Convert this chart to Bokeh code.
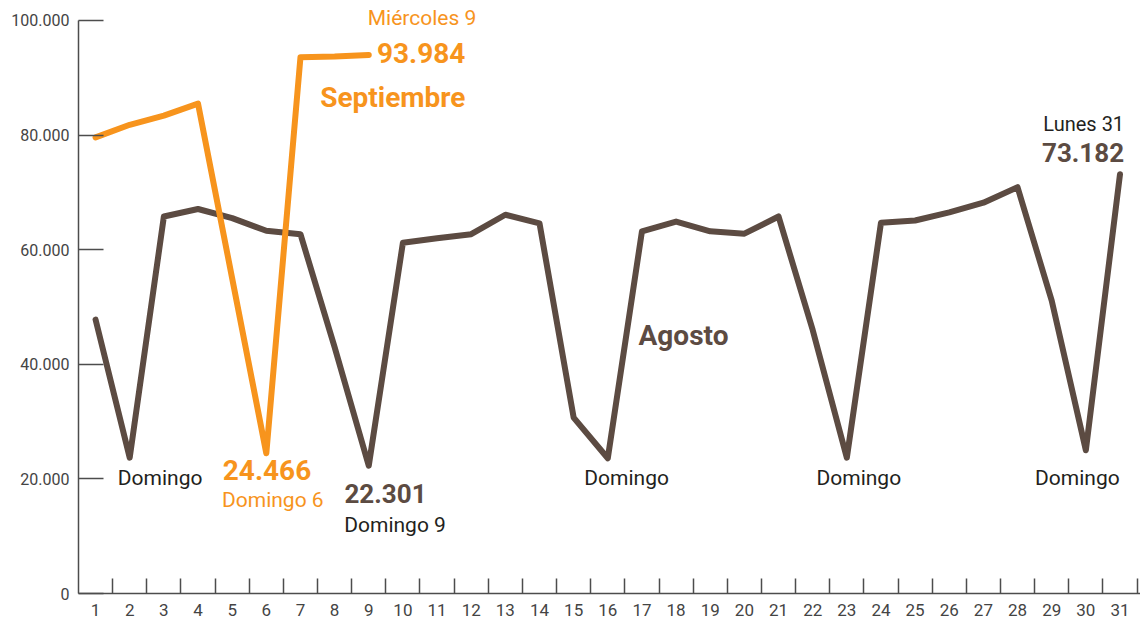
from bokeh.plotting import figure
from bokeh.models import FixedTicker
from bokeh.core.properties import value
from bokeh.embed import file_html
from bokeh.resources import INLINE

# ---- data ----
days = list(range(1, 32))
agosto = [47800, 23700, 65800, 67100, 65500, 63300, 62700, 43000, 22301, 61200,
          62000, 62700, 66100, 64600, 30700, 23600, 63200, 64900, 63200, 62800,
          65800, 46000, 23700, 64700, 65100, 66500, 68200, 70900, 51100, 25000, 73182]
sept_days = list(range(1, 10))
septiembre = [79600, 81800, 83400, 85500, 55000, 24466, 93600, 93700, 93984]

y_ticks = [0, 20000, 40000, 60000, 80000, 100000]
y_tick_labels = ["0", "20.000", "40.000", "60.000", "80.000", "100.000"]
x_tick_labels = [str(d) for d in days]

BROWN = "#5C4B42"
ORANGE = "#F7941D"
DARK = "#231F20"
AXIS = "#4D4D4D"
TICKFONT = "Roboto"

p = figure(frame_width=1062, frame_height=591, output_backend="svg",
           toolbar_location=None, x_range=(0.5, 31.6), y_range=(0, 103141),
           min_border_left=78, min_border_right=0, min_border_top=2,
           min_border_bottom=29)
p.outline_line_color = None
p.grid.grid_line_color = None
p.background_fill_color = "white"

# y axis
ya = p.yaxis[0]
ya.ticker = FixedTicker(ticks=y_ticks)
ya.major_label_overrides = {t: s for t, s in zip(y_ticks, y_tick_labels)}
ya.bounds = (0, 100000)
ya.major_tick_in = 25
ya.major_tick_out = 0
ya.minor_tick_line_color = None
ya.major_tick_line_color = AXIS
ya.major_tick_line_width = 1.5
ya.axis_line_color = AXIS
ya.axis_line_width = 1.5
ya.major_label_text_font = TICKFONT
ya.major_label_text_font_size = "16px"
ya.major_label_text_color = "#444444"
ya.major_label_standoff = 9

# x axis
xa = p.xaxis[0]
xa.ticker = FixedTicker(ticks=days, minor_ticks=[d + 0.5 for d in days])
xa.major_label_overrides = {d: s for d, s in zip(days, x_tick_labels)}
xa.major_tick_line_color = None
xa.minor_tick_in = 15
xa.minor_tick_out = 0
xa.minor_tick_line_color = AXIS
xa.minor_tick_line_width = 1.5
xa.axis_line_color = AXIS
xa.axis_line_width = 1.5
xa.major_label_text_font = TICKFONT
xa.major_label_text_font_size = "17px"
xa.major_label_text_color = "#444444"
xa.major_label_standoff = 4

# lines
p.line(days, agosto, line_color=BROWN, line_width=6, line_join="round", line_cap="round")
p.line(sept_days, septiembre, line_color=ORANGE, line_width=6, line_join="round", line_cap="round")

def fmt(v):
    return f"{v/1000:.3f}"

F = value("Roboto")

# Domingo labels under Sundays (August)
p.text(x=[2.89, 16.55, 23.35, 29.75], y=[20070] * 4, text=["Domingo"] * 4,
       text_font=F, text_font_size="21px", text_color=DARK,
       text_align="center", text_baseline="middle")

# September min
p.text(x=[6.02], y=[21470], text=[fmt(septiembre[5])], text_font=F, text_font_style="bold",
       text_font_size="28px", text_color=ORANGE, text_align="center", text_baseline="middle")
p.text(x=[6.19], y=[16400], text=["Domingo 6"], text_font=F,
       text_font_size="21px", text_color=ORANGE, text_align="center", text_baseline="middle")

# August min
p.text(x=[9.49], y=[17450], text=[fmt(agosto[8])], text_font=F, text_font_style="bold",
       text_font_size="26px", text_color=BROWN, text_align="center", text_baseline="middle")
p.text(x=[9.77], y=[12040], text=["Domingo 9"], text_font=F,
       text_font_size="21px", text_color=DARK, text_align="center", text_baseline="middle")

# September last
p.text(x=[12.15], y=[100350], text=["Miércoles 9"], text_font=F,
       text_font_size="21px", text_color=ORANGE, text_align="right", text_baseline="middle")
p.text(x=[11.83], y=[94400], text=[fmt(septiembre[-1])], text_font=F, text_font_style="bold",
       text_font_size="28px", text_color=ORANGE, text_align="right", text_baseline="middle")
p.text(x=[11.83], y=[86560], text=["Septiembre"], text_font=F, text_font_style="bold",
       text_font_size="28px", text_color=ORANGE, text_align="right", text_baseline="middle")

# August series label
p.text(x=[16.9], y=[45030], text=["Agosto"], text_font=F, text_font_style="bold",
       text_font_size="28px", text_color=BROWN, text_align="left", text_baseline="middle")

# August last
p.text(x=[31.12], y=[82000], text=["Lunes 31"], text_font=F,
       text_font_size="20px", text_color=DARK, text_align="right", text_baseline="middle")
p.text(x=[31.12], y=[76960], text=[fmt(agosto[-1])], text_font=F, text_font_style="bold",
       text_font_size="26px", text_color=BROWN, text_align="right", text_baseline="middle")

open("out.html", "w").write(file_html(p, INLINE))
